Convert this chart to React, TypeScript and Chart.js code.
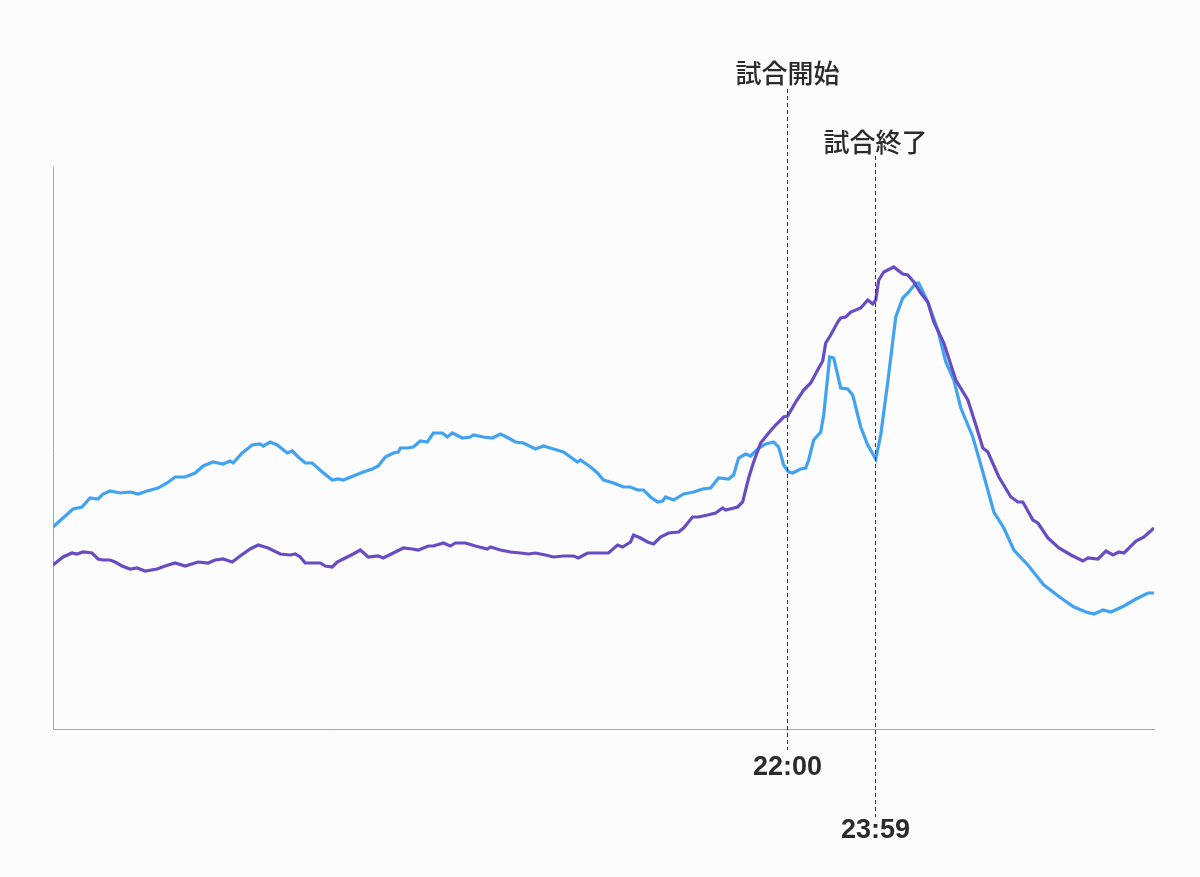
import React, { useEffect, useRef } from 'react';
import { Chart, registerables } from 'chart.js';

Chart.register(...registerables);

// Time position (x units) and relative value (y units) of series A (blue)
const seriesAX = [0, 10, 20, 29, 37, 45, 50, 57, 67, 77, 85, 94, 105, 114, 122, 132, 142, 150, 160, 170, 177, 180, 189, 199, 207, 210, 217, 224, 234, 239, 245, 252, 259, 269, 279, 285, 290, 300, 310, 319, 325, 332, 340, 345, 347, 354, 360, 367, 374, 380, 389, 394, 399, 409, 417, 420, 430, 439, 447, 455, 462, 470, 482, 490, 500, 510, 517, 524, 527, 537, 544, 550, 560, 570, 577, 584, 590, 597, 604, 609, 612, 620, 630, 640, 649, 657, 665, 675, 680, 685, 692, 697, 704, 712, 720, 725, 730, 735, 739, 747, 752, 755, 760, 767, 770, 776, 780, 787, 794, 799, 807, 814, 822, 827, 834, 842, 849, 855, 862, 865, 874, 884, 892, 900, 907, 919, 929, 940, 950, 960, 974, 990, 1007, 1020, 1032, 1040, 1049, 1057, 1070, 1082, 1094, 1100];
const seriesAY = [202, 211, 220, 222, 231, 230, 235, 238, 236, 237, 235, 238, 241, 246, 252, 252, 256, 263, 267, 265, 268, 266, 276, 284, 285, 283, 287, 284, 276, 278, 272, 266, 266, 257, 249, 250, 249, 253, 257, 260, 263, 272, 276, 277, 281, 281, 282, 288, 287, 296, 296, 292, 296, 291, 292, 294, 292, 291, 295, 291, 287, 286, 280, 283, 280, 277, 272, 267, 269, 262, 256, 249, 246, 242, 242, 239, 239, 232, 227, 228, 232, 229, 235, 237, 240, 241, 251, 250, 254, 271, 275, 273, 280, 285, 287, 282, 264, 257, 256, 260, 261, 269, 289, 297, 314, 372, 371, 341, 340, 334, 302, 284, 270, 294, 347, 412, 431, 437, 446, 446, 427, 399, 367, 349, 321, 292, 257, 217, 201, 179, 164, 144, 131, 122, 117, 115, 119, 117, 123, 130, 136, 136];

// Series B (purple)
const seriesBX = [0, 10, 19, 24, 30, 39, 45, 50, 57, 62, 69, 77, 84, 92, 104, 112, 122, 132, 145, 155, 162, 170, 179, 187, 197, 205, 215, 227, 237, 242, 247, 252, 260, 267, 272, 279, 284, 294, 300, 307, 315, 325, 330, 340, 350, 359, 365, 375, 380, 390, 397, 402, 412, 422, 434, 437, 447, 457, 467, 475, 482, 492, 500, 510, 520, 525, 534, 544, 555, 564, 569, 577, 580, 587, 594, 600, 607, 615, 625, 630, 639, 645, 654, 662, 669, 672, 684, 689, 695, 700, 707, 715, 722, 730, 734, 742, 750, 757, 764, 769, 772, 777, 784, 787, 792, 797, 807, 814, 819, 822, 825, 830, 840, 849, 854, 860, 867, 874, 880, 890, 902, 914, 922, 929, 934, 945, 957, 964, 969, 979, 984, 994, 1005, 1017, 1029, 1034, 1044, 1052, 1059, 1065, 1070, 1082, 1090, 1100];
const seriesBY = [164, 172, 176, 175, 177, 176, 170, 169, 169, 167, 163, 160, 161, 158, 160, 163, 166, 163, 167, 166, 169, 170, 167, 173, 180, 184, 181, 175, 174, 175, 172, 166, 166, 166, 163, 162, 167, 172, 175, 179, 172, 173, 171, 176, 181, 180, 179, 183, 183, 186, 183, 186, 186, 183, 180, 182, 179, 177, 176, 175, 176, 174, 172, 173, 173, 171, 176, 176, 176, 184, 182, 187, 194, 191, 187, 185, 192, 196, 197, 201, 212, 212, 214, 216, 221, 219, 222, 227, 251, 267, 286, 296, 304, 312, 313, 327, 339, 346, 359, 368, 386, 394, 407, 411, 412, 417, 421, 429, 425, 429, 449, 457, 462, 455, 454, 447, 436, 427, 407, 386, 349, 329, 304, 281, 277, 252, 232, 227, 227, 209, 206, 191, 181, 174, 168, 171, 170, 178, 174, 177, 176, 188, 192, 201];

// Annotated moments
const markerPositions = [734, 822];
const markerTimes = ['22:00', '23:59'];
const markerEvents = ['試合開始', '試合終了'];

const COLOR_A = '#40a2f0';
const COLOR_B = '#674cc4';

const markerPlugin = {
  id: 'markers',
  afterDraw(chart: any) {
    const ctx = chart.ctx;
    const xScale = chart.scales.x;
    const area = chart.chartArea;
    // per-marker vertical offsets (staggered)
    const eventLabelY = [area.top - 94, area.top - 25];
    const lineTop = [area.top - 78, area.top - 11];
    const lineBottom = [area.bottom + 21, area.bottom + 88];
    const timeLabelY = [area.bottom + 39, area.bottom + 102];
    markerPositions.forEach((v, i) => {
      const x = Math.floor(xScale.getPixelForValue(v)) + 0.5;
      ctx.save();
      ctx.strokeStyle = '#333';
      ctx.lineWidth = 1;
      ctx.setLineDash([4, 3]);
      ctx.beginPath();
      ctx.moveTo(x, lineTop[i]);
      ctx.lineTo(x, lineBottom[i]);
      ctx.stroke();
      ctx.setLineDash([]);
      ctx.fillStyle = '#2b2b2b';
      ctx.textAlign = 'center';
      ctx.textBaseline = 'middle';
      ctx.font = '500 26px "Noto Sans CJK JP", sans-serif';
      ctx.fillText(markerEvents[i], x, eventLabelY[i]);
      ctx.font = 'bold 27px "Liberation Sans", Arial, sans-serif';
      ctx.fillText(markerTimes[i], x, timeLabelY[i]);
      ctx.restore();
    });
  },
};

export default function App() {
  const ref = useRef<HTMLCanvasElement>(null);
  useEffect(() => {
    document.body.style.margin = '0';
    document.body.style.background = '#fcfcfc';
    const chart = new Chart(ref.current as HTMLCanvasElement, {
      type: 'line',
      data: {
        datasets: [
          {
            data: seriesBX.map((x, i) => ({ x, y: seriesBY[i] })),
            borderColor: COLOR_B,
            borderWidth: 3.2,
            pointRadius: 0,
            tension: 0,
            fill: false,
          },
          {
            data: seriesAX.map((x, i) => ({ x, y: seriesAY[i] })),
            borderColor: COLOR_A,
            borderWidth: 3.2,
            pointRadius: 0,
            tension: 0,
            fill: false,
          },
        ],
      },
      options: {
        animation: false,
        responsive: false,
        maintainAspectRatio: false,
        layout: { padding: { left: 53, right: 46, top: 167, bottom: 148 } },
        plugins: { legend: { display: false }, tooltip: { enabled: false } },
        scales: {
          x: {
            type: 'linear',
            min: 0,
            max: 1100,
            ticks: { display: false },
            grid: { display: false, drawTicks: false },
            border: { display: true, color: '#a6a6a6', width: 1 },
          },
          y: {
            type: 'linear',
            min: 0,
            max: 562,
            ticks: { display: false },
            grid: { display: false, drawTicks: false },
            border: { display: true, color: '#a6a6a6', width: 1 },
          },
        },
      },
      plugins: [markerPlugin],
    });
    return () => chart.destroy();
  }, []);
  return (
    <div style={{ width: 1200, height: 877, background: '#fcfcfc' }}>
      <canvas ref={ref} width={1200} height={877} style={{ display: 'block' }} />
    </div>
  );
}
